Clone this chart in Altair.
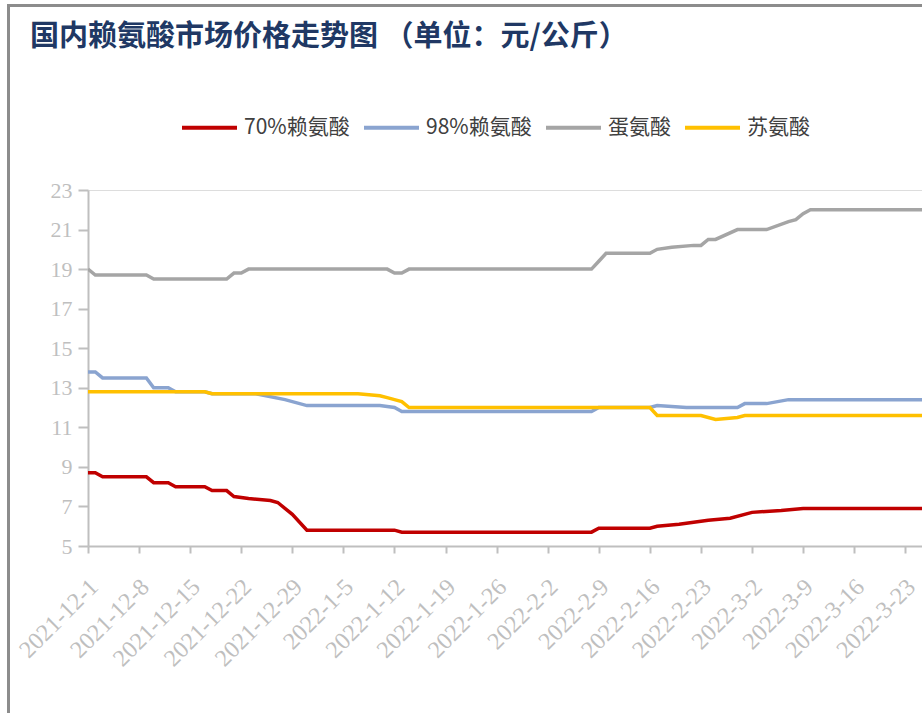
import altair as alt
import pandas as pd

title_text = "国内赖氨酸市场价格走势图  （单位：元/公斤）"
series_names = ["70%赖氨酸", "98%赖氨酸", "蛋氨酸", "苏氨酸"]
series_colors = ["#C00000", "#8AA4D0", "#A5A5A5", "#FFC000"]

lys70_dates = ["2021-12-01", "2021-12-02", "2021-12-03", "2021-12-09", "2021-12-10", "2021-12-12",
               "2021-12-13", "2021-12-17", "2021-12-18", "2021-12-20", "2021-12-21", "2021-12-23",
               "2021-12-26", "2021-12-27", "2021-12-29", "2021-12-31", "2022-01-12", "2022-01-13",
               "2022-02-08", "2022-02-09", "2022-02-16", "2022-02-17", "2022-02-20", "2022-02-22",
               "2022-02-24", "2022-02-27", "2022-03-02", "2022-03-06", "2022-03-09", "2022-03-26"]
lys70_values = [8.7, 8.7, 8.5, 8.5, 8.2, 8.2,
                8.0, 8.0, 7.8, 7.8, 7.5, 7.4,
                7.3, 7.2, 6.6, 5.8, 5.8, 5.7,
                5.7, 5.9, 5.9, 6.0, 6.1, 6.2,
                6.3, 6.4, 6.7, 6.8, 6.9, 6.9]

lys98_dates = ["2021-12-01", "2021-12-02", "2021-12-03", "2021-12-09", "2021-12-10", "2021-12-12",
               "2021-12-13", "2021-12-17", "2021-12-18", "2021-12-24", "2021-12-28", "2021-12-31",
               "2022-01-10", "2022-01-12", "2022-01-13", "2022-02-08", "2022-02-09", "2022-02-16",
               "2022-02-17", "2022-02-21", "2022-02-28", "2022-03-01", "2022-03-04", "2022-03-07",
               "2022-03-26"]
lys98_values = [13.8, 13.8, 13.5, 13.5, 13.0, 13.0,
                12.8, 12.8, 12.7, 12.7, 12.4, 12.1,
                12.1, 12.0, 11.8, 11.8, 12.0, 12.0,
                12.1, 12.0, 12.0, 12.2, 12.2, 12.4,
                12.4]

met_dates = ["2021-12-01", "2021-12-02", "2021-12-09", "2021-12-10", "2021-12-20", "2021-12-21",
             "2021-12-22", "2021-12-23", "2022-01-11", "2022-01-12", "2022-01-13", "2022-01-14",
             "2022-02-08", "2022-02-09", "2022-02-10", "2022-02-16", "2022-02-17", "2022-02-19",
             "2022-02-22", "2022-02-23", "2022-02-24", "2022-02-25", "2022-02-28", "2022-03-04",
             "2022-03-07", "2022-03-08", "2022-03-09", "2022-03-10", "2022-03-26"]
met_values = [19.0, 18.7, 18.7, 18.5, 18.5, 18.8,
              18.8, 19.0, 19.0, 18.8, 18.8, 19.0,
              19.0, 19.4, 19.8, 19.8, 20.0, 20.1,
              20.2, 20.2, 20.5, 20.5, 21.0, 21.0,
              21.4, 21.5, 21.8, 22.0, 22.0]

thr_dates = ["2021-12-01", "2021-12-17", "2021-12-18", "2022-01-07", "2022-01-10", "2022-01-11",
             "2022-01-12", "2022-01-13", "2022-01-14", "2022-02-16", "2022-02-17", "2022-02-23",
             "2022-02-25", "2022-02-28", "2022-03-01", "2022-03-26"]
thr_values = [12.8, 12.8, 12.7, 12.7, 12.6, 12.5,
              12.4, 12.3, 12.0, 12.0, 11.6, 11.6,
              11.4, 11.5, 11.6, 11.6]

x_tick_dates = ["2021-12-01", "2021-12-08", "2021-12-15", "2021-12-22", "2021-12-29",
                "2022-01-05", "2022-01-12", "2022-01-19", "2022-01-26", "2022-02-02",
                "2022-02-09", "2022-02-16", "2022-02-23", "2022-03-02", "2022-03-09",
                "2022-03-16", "2022-03-23"]
x_domain = ["2021-12-01T00:00:00", "2022-03-25T07:00:00"]
y_ticks = [5, 7, 9, 11, 13, 15, 17, 19, 21, 23]


def to_ms(s):
    return int(pd.Timestamp(s, tz="UTC").value // 10**6)


rows = []
for name, ds, vs in zip(series_names,
                        [lys70_dates, lys98_dates, met_dates, thr_dates],
                        [lys70_values, lys98_values, met_values, thr_values]):
    for d, v in zip(ds, vs):
        rows.append({"series": name, "date": to_ms(d), "price": v})
df = pd.DataFrame(rows)

axis_color = "#BFBFBF"

x_enc = alt.X(
    "date:T",
    scale=alt.Scale(type="utc", domain=[to_ms(x_domain[0]), to_ms(x_domain[1])], nice=False),
    axis=alt.Axis(
        values=[to_ms(t) for t in x_tick_dates],
        labelExpr="utcFormat(datum.value, '%Y-%-m-%-d')",
        labelAngle=315, labelAlign="right", labelBaseline="middle",
        labelFont="Liberation Serif", labelFontSize=24, labelColor=axis_color,
        labelPadding=30, labelOffset=6, labelOverlap=False, labelBound=False, labelFlush=False,
        tickSize=7, tickWidth=2, tickColor=axis_color,
        domainColor=axis_color, domainWidth=2, grid=False, title=None,
    ),
)
y_enc = alt.Y(
    "price:Q",
    scale=alt.Scale(domain=[5, 23], nice=False, zero=False),
    axis=alt.Axis(
        values=y_ticks, labelFont="Liberation Serif", labelFontSize=22, labelColor=axis_color,
        labelPadding=6, tickSize=10, tickWidth=2, tickColor=axis_color,
        domainColor=axis_color, domainWidth=2, grid=False, title=None,
    ),
)
color_enc = alt.Color(
    "series:N",
    scale=alt.Scale(domain=series_names, range=series_colors),
    legend=alt.Legend(
        orient="none", legendX=92, legendY=-92, direction="horizontal", title=None,
        symbolType="stroke", symbolSize=3025, symbolStrokeWidth=4,
        labelFont="Noto Sans CJK SC", labelFontSize=21, labelColor="#404040",
        columnPadding=6, labelOffset=5, padding=0, labelLimit=300,
    ),
)

base = alt.Chart(df)
layers = []
for name in series_names:
    layers.append(
        base.transform_filter(alt.datum.series == name)
        .mark_line(strokeWidth=3.5, clip=True)
        .encode(x=x_enc, y=y_enc, color=color_enc)
    )

one = pd.DataFrame({"t": [title_text]})
title_layer = alt.Chart(one).mark_text(
    align="left", baseline="middle", font="Noto Sans CJK SC", fontSize=29,
    fontWeight="bold", color="#203864"
).encode(text="t:N", x=alt.value(-58), y=alt.value(-153))

frame_left = alt.Chart(one).mark_rule(color="#8C8C8C", strokeWidth=3).encode(
    x=alt.value(-79.5), y=alt.value(-184.5), y2=alt.value(523))
frame_top = alt.Chart(one).mark_rule(color="#8C8C8C", strokeWidth=3).encode(
    x=alt.value(-81), x2=alt.value(840), y=alt.value(-184.5))

chart = alt.layer(frame_left, frame_top, title_layer, *layers).properties(
    width=834, height=356,
    autosize=alt.AutoSizeParams(type="none"),
    padding={"left": 88, "top": 190, "right": 0, "bottom": 167},
).configure_view(stroke=None).configure(background="white")

chart.save("out.html", embed_options={"renderer": "svg", "actions": False})
